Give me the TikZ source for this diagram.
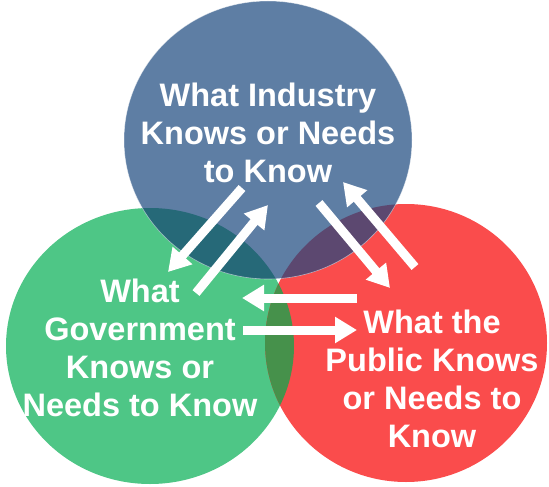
\documentclass[tikz,border=0pt]{standalone}
\usepackage{fontspec}
\setmainfont{Liberation Sans}
\usepackage{tikz}
\usetikzlibrary{arrows.meta}
\definecolor{indblue}{RGB}{94,126,164}
\definecolor{govgreen}{RGB}{78,198,134}
\definecolor{pubred}{RGB}{250,76,76}
\definecolor{indgov}{RGB}{38,105,120}
\definecolor{indpub}{RGB}{92,72,112}
\definecolor{govpub}{RGB}{70,145,75}

\begin{document}
\begin{tikzpicture}[x=1pt,y=-1pt,
  flow/.style={draw=white,line width=9pt,-{Triangle[length=22pt,width=25pt]}},
  label/.style={text=white,align=center,font=\fontsize{32.5}{38}\selectfont\bfseries}]
  \fill[white] (0,0) rectangle (549,487);
  \useasboundingbox (0,0) rectangle (549,487);
  % circles
  \def\indc{(268,140) ellipse [x radius=144pt,y radius=139pt]}
  \def\govc{(150,346) ellipse [x radius=144pt,y radius=138pt]}
  \def\pubc{(406,343) ellipse [x radius=141pt,y radius=139pt]}
  \fill[govgreen] \govc;
  \fill[pubred] \pubc;
  \fill[indblue] \indc;
  % overlaps
  \begin{scope}
    \clip \indc;
    \fill[indgov] \govc;
    \fill[indpub] \pubc;
  \end{scope}
  \begin{scope}
    \clip \govc;
    \clip \pubc;
    \fill[govpub] (0,0) rectangle (549,487);
  \end{scope}
  \draw[white,opacity=0.5,line width=0.6pt] \indc;
  % arrow ends
  \coordinate (i2g-s) at (242,188); \coordinate (i2g-e) at (168,272);
  \coordinate (g2i-s) at (196,293); \coordinate (g2i-e) at (268,205);
  \coordinate (i2p-s) at (319,203); \coordinate (i2p-e) at (390,288);
  \coordinate (p2i-s) at (415,267); \coordinate (p2i-e) at (343,182);
  \coordinate (p2g-s) at (357,298); \coordinate (p2g-e) at (242,298);
  \coordinate (g2p-s) at (243,330); \coordinate (g2p-e) at (357,330);
  \foreach \f in {i2g,g2i,i2p,p2i,p2g,g2p}
    \draw[flow] (\f-s) -- (\f-e);
  % texts
  \node[label] (ind) at (268,133) {What Industry\\Knows or Needs\\to Know};
  \node[label] (gov) at (140,348) {What\\Government\\Knows or\\Needs to Know};
  \node[label] (pub) at (432,379) {What the\\Public Knows\\or Needs to\\Know};
\end{tikzpicture}
\end{document}
